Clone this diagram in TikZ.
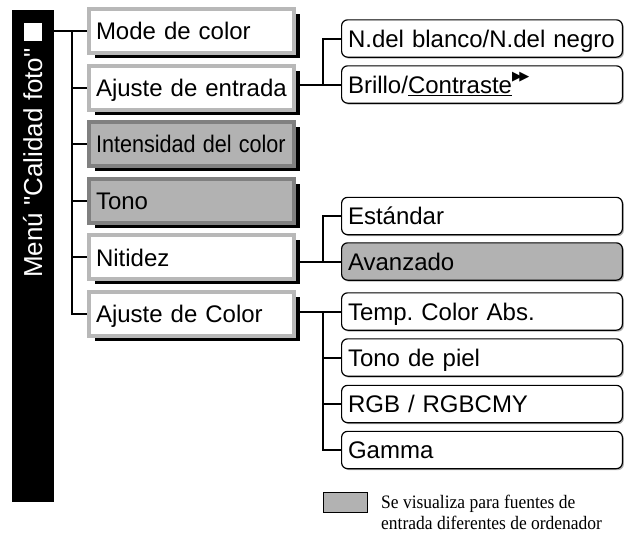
\documentclass[tikz,border=0pt]{standalone}
\usepackage{fontspec}
\usepackage{graphicx}
\setmainfont{Liberation Sans}
\newfontfamily\titlefont[Ligatures=TeXOff]{Liberation Sans}
\newfontfamily\legfont[FakeStretch=0.92]{Liberation Serif}
\newfontfamily\symfont{DejaVu Sans}
\frenchspacing
\usetikzlibrary{shadows}
\definecolor{boxgray}{gray}{0.70}
\definecolor{lightborder}{gray}{0.72}
\definecolor{darkborder}{gray}{0.50}
\tikzset{
  lbox/.style={rectangle, draw=lightborder, line width=4pt, fill=white, anchor=west,
    minimum width=205pt, minimum height=44pt, text width=191pt, inner xsep=7pt, inner ysep=0pt,
    align=left, font=\fontsize{24}{28}\selectfont, text height=17.2pt, text depth=0pt,
    general shadow={fill=black, shadow xshift=6pt, shadow yshift=-5pt}},
  lboxg/.style={lbox, draw=darkborder, fill=boxgray},
  rbox/.style={rectangle, draw=black, line width=1.2pt, rounded corners=6pt, fill=white, anchor=west,
    minimum width=280.8pt, minimum height=37.3pt, text width=268pt, inner xsep=6.4pt, inner ysep=0pt,
    align=left, font=\fontsize{24}{28}\selectfont, text height=17.2pt, text depth=0pt,
    general shadow={fill=black!30, shadow xshift=1.5pt, shadow yshift=-1.5pt}},
  rboxg/.style={rbox, fill=boxgray},
  conn/.style={draw=black, line width=2pt},
}
\begin{document}
\begin{tikzpicture}[x=1pt, y=-1pt]
\useasboundingbox (0,0) rectangle (638,536);
% left bar with title
\node[fill=black, minimum width=42pt, minimum height=492pt, inner sep=0pt, outer sep=0pt, anchor=north west] (bar) at (12,10) {};
\node[fill=white, minimum size=18.5pt, inner sep=0pt, outer sep=0pt, anchor=north west] (sq) at (23.5,22.5) {};
\node[rotate=90, anchor=base west, text=white, font=\titlefont\fontsize{26}{30}\selectfont, inner sep=0pt] (title) at (42,278) {Menú "Calidad foto"};
% left column
\node[lbox] (mode) at (87,31) {Mode de color};
\node[lbox] (ent) at (87,87.6) {Ajuste de entrada};
\node[lboxg] (int) at (87,144.2) {\scalebox{0.9}[1]{Intensidad del color}};
\node[lboxg] (tono) at (87,200.8) {Tono};
\node[lbox] (nit) at (87,257.4) {Nitidez};
\node[lbox] (ajc) at (87,314) {Ajuste de Color};
% right column
\node[rbox] (nb) at (341,38.5) {N.del blanco/N.del negro};
\node[rbox] (bri) at (341,84.5) {Brillo/\underline{Contraste}\raisebox{12.5pt}{\symfont\fontsize{13}{13}\selectfont ▶\kern-2.8pt▶}};
\node[rbox] (est) at (341,216) {Estándar};
\node[rboxg] (ava) at (341,261.5) {Avanzado};
\node[rbox] (temp) at (341,311.5) {Temp. Color Abs.};
\node[rbox] (piel) at (341,357.5) {Tono de piel};
\node[rbox] (rgb) at (341,404) {RGB / RGBCMY};
\node[rbox] (gam) at (341,450) {Gamma};
% connectors
\coordinate (T) at (72,0);
\coordinate (S) at (323,0);
\draw[conn] (bar.east |- mode.west) -- (mode.west);
\draw[conn] (T |- mode.west) -- (T |- ajc.west) -- (ajc.west);
\draw[conn] (T |- ent.west) -- (ent.west);
\draw[conn] (T |- int.west) -- (int.west);
\draw[conn] (T |- tono.west) -- (tono.west);
\draw[conn] (T |- nit.west) -- (nit.west);
\draw[conn] (ent.east |- bri.west) -- (bri.west);
\draw[conn] (S |- bri.west) -- (S |- nb.west) -- (nb.west);
\draw[conn] (nit.east |- ava.west) -- (ava.west);
\draw[conn] (S |- ava.west) -- (S |- est.west) -- (est.west);
\draw[conn] (ajc.east |- temp.west) -- (temp.west);
\draw[conn] (S |- temp.west) -- (S |- gam.west) -- (gam.west);
\draw[conn] (S |- piel.west) -- (piel.west);
\draw[conn] (S |- rgb.west) -- (rgb.west);
% legend
\node[draw=black, line width=1pt, fill=boxgray, minimum width=44pt, minimum height=20pt, inner sep=0pt, anchor=north west] (leg) at (322.5,491.5) {};
\node[anchor=base west, inner sep=0pt, font=\legfont\fontsize{19}{21}\selectfont] (lega) at (381,508) {Se visualiza para fuentes de};
\node[anchor=base west, inner sep=0pt, font=\legfont\fontsize{19}{21}\selectfont] (legb) at (381,529) {entrada diferentes de ordenador};
\end{tikzpicture}
\end{document}
